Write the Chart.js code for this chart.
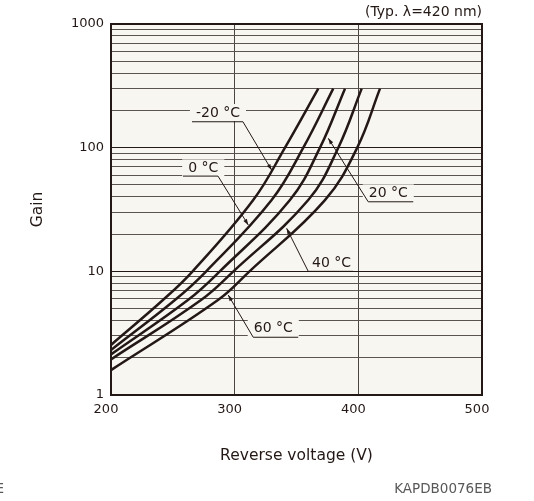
<!DOCTYPE html>
<html lang="en">
<head>
<meta charset="UTF-8">
<title>Gain vs. reverse voltage</title>
<script src="https://cdn.jsdelivr.net/npm/chart.js@4.4.1/dist/chart.umd.min.js"></script>
<style>
  html, body { margin: 0; padding: 0; background: #fff; }
</style>
</head>
<body>
<canvas id="chart" width="534" height="501"></canvas>
<script>
// curves, one per temperature (reverse voltage in V, gain)
const temps = ['-20 °C', '0 °C', '20 °C', '40 °C', '60 °C'];
const voltsM20 = [200, 242, 266, 315, 340.7, 367.6];
const gainM20  = [2.54, 5.86, 10, 37.7, 100, 300];
const volts0   = [200, 251.7, 277, 329.9, 355.5, 379.7];
const gain0    = [2.31, 5.86, 10, 37.7, 100, 300];
const volts20  = [200, 262.2, 288, 344.7, 369, 389.2];
const gain20   = [2.13, 5.86, 10, 37.7, 100, 300];
const volts40  = [200, 272.8, 299, 359.5, 383.8, 402.7];
const gain40   = [1.94, 5.86, 10, 37.7, 100, 300];
const volts60  = [200, 286.5, 312, 373, 399.1, 417.5];
const gain60   = [1.59, 5.86, 10, 37.7, 100, 300];

// axes
const xTicks = [200, 300, 400, 500];
const gainGrid = [1, 2, 3, 4, 5, 6, 7, 8, 9, 10, 20, 30, 40, 50, 60, 70, 80, 90,
                  100, 200, 300, 400, 500, 600, 700, 800, 900, 1000];
const gainLabels = [1, 10, 100, 1000];

// callout labels: text position, underline, arrow tip (data units)
const calloutV  = [286.5, 274.6, 424.2, 378.4, 331.2];
const calloutG  = [190.5, 68, 42.7, 11.7, 3.46];
const underV1   = [265.5, 258.2, 408, 359.5, 315];
const underV2   = [306.7, 286.5, 444.4, 395.9, 351.4];
const underG    = [162, 58.9, 36.5, 10, 2.93];
const tipV      = [329.9, 311, 375.7, 342, 294.8];
const tipG      = [65.9, 23.7, 119, 22.3, 6.43];
const leaderEnd = ['right', 'right', 'left', 'left', 'left'];

const FONT = "'DejaVu Sans', sans-serif";
const INK = '#231815';
const PAPER = '#f8f6f0';

function pts(xs, ys) {
  return xs.map((x, i) => ({ x: x, y: ys[i] }));
}

const curves = [
  pts(voltsM20, gainM20), pts(volts0, gain0), pts(volts20, gain20),
  pts(volts40, gain40), pts(volts60, gain60)
];

const backdrop = {
  id: 'backdrop',
  beforeDraw(chart) {
    const { ctx, chartArea: a } = chart;
    ctx.save();
    ctx.fillStyle = '#fff';
    ctx.fillRect(0, 0, chart.width, chart.height);
    ctx.fillStyle = PAPER;
    ctx.fillRect(a.left, a.top, a.right - a.left, a.bottom - a.top);
    ctx.restore();
  }
};

const callouts = {
  id: 'callouts',
  beforeDatasetsDraw(chart) {
    const { ctx } = chart;
    const xs = chart.scales.x, ys = chart.scales.y;
    ctx.save();
    ctx.font = '14px ' + FONT;
    ctx.textAlign = 'center';
    ctx.textBaseline = 'middle';
    temps.forEach((t, i) => {
      const cx = xs.getPixelForValue(calloutV[i]);
      const cy = ys.getPixelForValue(calloutG[i]);
      const w = ctx.measureText(t).width;
      ctx.fillStyle = PAPER;
      ctx.fillRect(cx - w / 2 - 6, cy - 9, w + 12, 17);
      ctx.fillStyle = INK;
      ctx.fillText(t, cx, cy);

      const ux1 = xs.getPixelForValue(underV1[i]);
      const ux2 = xs.getPixelForValue(underV2[i]);
      const uy = ys.getPixelForValue(underG[i]);
      const sx = leaderEnd[i] === 'right' ? ux2 : ux1;
      const tx = xs.getPixelForValue(tipV[i]);
      const ty = ys.getPixelForValue(tipG[i]);
      ctx.strokeStyle = INK;
      ctx.lineWidth = 1;
      ctx.beginPath();
      ctx.moveTo(ux1, uy);
      ctx.lineTo(ux2, uy);
      ctx.moveTo(sx, uy);
      ctx.lineTo(tx, ty);
      ctx.stroke();

      // small arrow head
      const ang = Math.atan2(ty - uy, tx - sx);
      ctx.beginPath();
      ctx.moveTo(tx, ty);
      ctx.lineTo(tx - 6 * Math.cos(ang) + 2 * Math.sin(ang), ty - 6 * Math.sin(ang) - 2 * Math.cos(ang));
      ctx.lineTo(tx - 6 * Math.cos(ang) - 2 * Math.sin(ang), ty - 6 * Math.sin(ang) + 2 * Math.cos(ang));
      ctx.closePath();
      ctx.fillStyle = INK;
      ctx.fill();
    });
    ctx.restore();
  }
};

const frame = {
  id: 'frame',
  afterDatasetsDraw(chart) {
    const { ctx, chartArea: a } = chart;
    ctx.save();
    ctx.strokeStyle = INK;
    ctx.lineWidth = 2;
    ctx.strokeRect(a.left, a.top, a.right - a.left, a.bottom - a.top);

    ctx.fillStyle = INK;
    ctx.font = '14px ' + FONT;
    ctx.textAlign = 'right';
    ctx.textBaseline = 'middle';
    ctx.fillText('(Typ. λ=420 nm)', a.right, 12);

    ctx.fillStyle = '#595757';
    ctx.font = '13.5px ' + FONT;
    ctx.fillText('KAPDB0076EB', 492, 489);
    ctx.fillText('E', 4, 489);
    ctx.restore();
  }
};

new Chart(document.getElementById('chart'), {
  type: 'line',
  data: {
    datasets: curves.map((c, i) => ({
      label: temps[i],
      data: c,
      borderColor: INK,
      borderWidth: 2.5,
      pointRadius: 0,
      fill: false,
      tension: 0.4
    }))
  },
  options: {
    responsive: false,
    animation: false,
    devicePixelRatio: 1,
    layout: { padding: { top: 24, right: 52, left: 0, bottom: 0 } },
    plugins: { legend: { display: false }, tooltip: { enabled: false } },
    scales: {
      x: {
        type: 'linear',
        min: 200,
        max: 500,
        afterBuildTicks: s => { s.ticks = xTicks.map(v => ({ value: v })); },
        afterFit: s => { s.height = 106; },
        grid: { color: '#4b4441', lineWidth: 1, drawTicks: false },
        border: { display: false },
        ticks: {
          padding: 7, labelOffset: -5, maxRotation: 0, color: INK,
          font: { family: FONT, size: 13 }
        },
        title: {
          display: true, text: 'Reverse voltage (V)', color: INK,
          font: { family: FONT, size: 15.5 }, padding: { top: 0, bottom: 36 }
        }
      },
      y: {
        type: 'logarithmic',
        min: 1,
        max: 1000,
        afterBuildTicks: s => { s.ticks = gainGrid.map(v => ({ value: v })); },
        afterFit: s => { s.width = 111; },
        grid: {
          color: c => gainLabels.includes(c.tick.value) ? INK : '#5a5350',
          lineWidth: 1, drawTicks: false
        },
        border: { display: false },
        ticks: {
          autoSkip: false, padding: 7, color: INK,
          font: { family: FONT, size: 13 },
          callback: v => gainLabels.includes(v) ? String(v) : ''
        },
        title: {
          display: true, text: 'Gain', color: INK,
          font: { family: FONT, size: 15.5 }, padding: { top: 29, bottom: 0 }
        }
      }
    }
  },
  plugins: [backdrop, callouts, frame]
});
</script>
</body>
</html>
